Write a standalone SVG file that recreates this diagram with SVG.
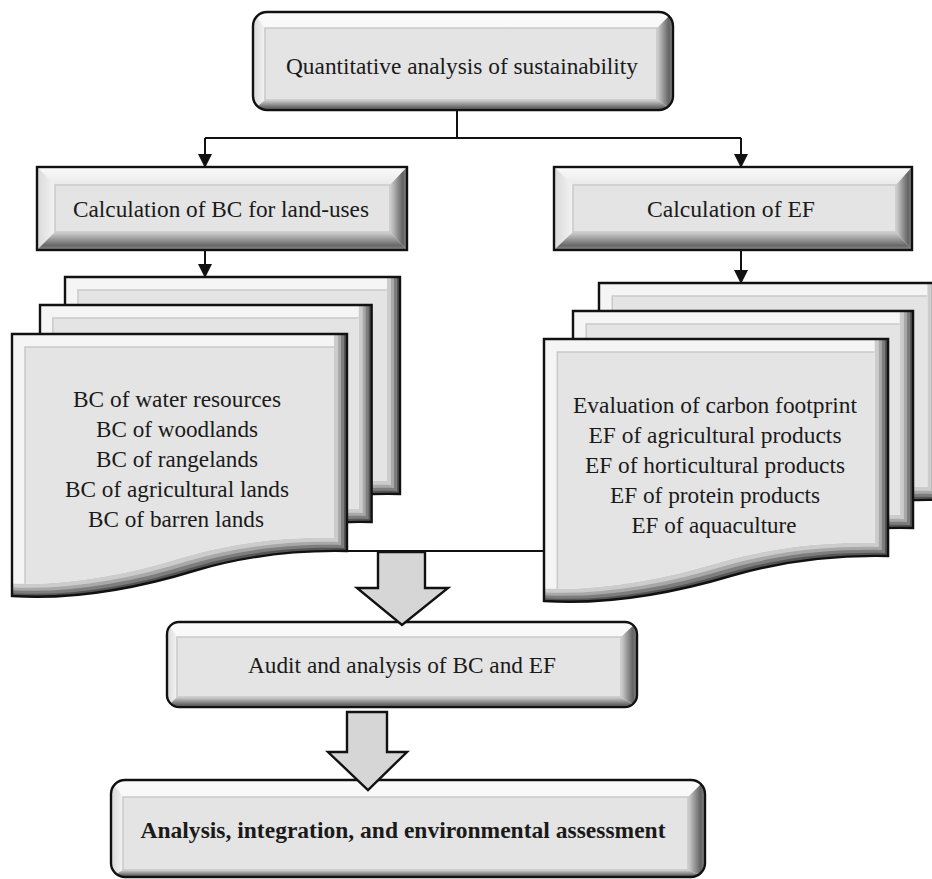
<svg xmlns="http://www.w3.org/2000/svg" xmlns:xlink="http://www.w3.org/1999/xlink" width="932" height="879" viewBox="0 0 932 879">
<style>
  .t { font-family: "Liberation Serif", "DejaVu Serif", serif; font-size: 23px; fill: #1a1a1a; text-anchor: middle; }
  .tb { font-weight: bold; }
  .edge { stroke: #111; stroke-width: 2.4; fill: none; }
  .face { fill: #e4e4e4; stroke: #c9c9c9; stroke-width: 1.5; }
  .conn { stroke: #111; stroke-width: 2; fill: none; }
  .block { fill: #d6d6d6; stroke: #111; stroke-width: 2.4; stroke-linejoin: miter; }
</style>
<defs>
  <linearGradient id="gTop" x1="0" y1="0" x2="0" y2="1">
    <stop offset="0" stop-color="#fbfbfb"/><stop offset="1" stop-color="#e9e9e9"/>
  </linearGradient>
  <linearGradient id="gLeft" x1="0" y1="0" x2="1" y2="0">
    <stop offset="0" stop-color="#d9d9d9"/><stop offset="1" stop-color="#f3f3f3"/>
  </linearGradient>
  <linearGradient id="gRight" x1="0" y1="0" x2="1" y2="0">
    <stop offset="0" stop-color="#d2d2d2"/><stop offset="0.75" stop-color="#626262"/><stop offset="1" stop-color="#8c8c8c"/>
  </linearGradient>
  <linearGradient id="gBot" x1="0" y1="0" x2="0" y2="1">
    <stop offset="0" stop-color="#d2d2d2"/><stop offset="0.75" stop-color="#686868"/><stop offset="1" stop-color="#8c8c8c"/>
  </linearGradient>
  <marker id="ah" viewBox="0 0 14 14" refX="10" refY="7" markerWidth="14" markerHeight="14" markerUnits="userSpaceOnUse" orient="auto">
    <path d="M0,0 L14,7 L0,14 Z" fill="#111"/>
  </marker>
  <path id="docShape" d="M0,0 H335 V217 C290,216 240,220 185,236 C120,256 60,266 0,262 Z"/>
  <clipPath id="cpDoc"><use xlink:href="#docShape" href="#docShape"/></clipPath>
  <clipPath id="cpDocIn"><use xlink:href="#docShape" href="#docShape" transform="translate(-13,-13)"/></clipPath>
  <g id="page">
    <g clip-path="url(#cpDoc)">
      <use href="#docShape" xlink:href="#docShape" fill="#555555"/>
      <use href="#docShape" xlink:href="#docShape" fill="#7d7d7d" transform="translate(-3,-3)"/>
      <use href="#docShape" xlink:href="#docShape" fill="#a8a8a8" transform="translate(-6,-6)"/>
      <use href="#docShape" xlink:href="#docShape" fill="#cccccc" transform="translate(-9,-9)"/>
      <use href="#docShape" xlink:href="#docShape" fill="#f5f5f5" transform="translate(-13,-13)"/>
      <g clip-path="url(#cpDocIn)">
        <use href="#docShape" xlink:href="#docShape" class="face" transform="translate(13,13)"/>
      </g>
    </g>
    <use href="#docShape" xlink:href="#docShape" class="edge"/>
  </g>
  <clipPath id="cpTop"><rect x="253" y="12" width="420" height="98" rx="14"/></clipPath>
  <clipPath id="cpAudit"><rect x="167" y="622" width="470" height="85" rx="12"/></clipPath>
  <clipPath id="cpFinal"><rect x="111" y="780" width="594" height="97" rx="14"/></clipPath>
</defs>

<rect width="932" height="879" fill="#ffffff"/>

<g id="node-quantitative">
  <g clip-path="url(#cpTop)">
    <rect x="253" y="12" width="420" height="98" fill="url(#gTop)"/>
    <polygon points="253,12 265,28 265,100 253,110" fill="url(#gLeft)"/>
    <polygon points="673,12 673,110 657,100 657,28" fill="url(#gRight)"/>
    <polygon points="253,110 673,110 657,100 265,100" fill="url(#gBot)"/>
    <rect x="265" y="28" width="392" height="72" class="face"/>
  </g>
  <rect x="253" y="12" width="420" height="98" rx="14" class="edge"/>
  <text class="t" x="462" y="74" textLength="352" lengthAdjust="spacingAndGlyphs">Quantitative analysis of sustainability</text>
</g>

<g id="node-bc-calc">
  <rect x="37" y="167" width="370" height="83" fill="#e6e6e6"/>
  <polygon points="37,167 407,167 390,185 55,185" fill="url(#gTop)"/>
  <polygon points="37,167 55,185 55,232 37,250" fill="url(#gLeft)"/>
  <polygon points="407,167 407,250 390,232 390,185" fill="url(#gRight)"/>
  <polygon points="37,250 407,250 390,232 55,232" fill="url(#gBot)"/>
  <rect x="55" y="185" width="335" height="47" class="face"/>
  <rect x="37" y="167" width="370" height="83" class="edge"/>
  <text class="t" x="221" y="217" textLength="296" lengthAdjust="spacingAndGlyphs">Calculation of BC for land-uses</text>
</g>

<g id="node-ef-calc">
  <rect x="554" y="167" width="358" height="83" fill="#e6e6e6"/>
  <polygon points="554,167 912,167 896,185 573,185" fill="url(#gTop)"/>
  <polygon points="554,167 573,185 573,232 554,250" fill="url(#gLeft)"/>
  <polygon points="912,167 912,250 896,232 896,185" fill="url(#gRight)"/>
  <polygon points="554,250 912,250 896,232 573,232" fill="url(#gBot)"/>
  <rect x="573" y="185" width="323" height="47" class="face"/>
  <rect x="554" y="167" width="358" height="83" class="edge"/>
  <text class="t" x="731" y="217" textLength="168" lengthAdjust="spacingAndGlyphs">Calculation of EF</text>
</g>

<g id="node-bc-stack">
  <use href="#page" xlink:href="#page" transform="translate(65,277)"/>
  <use href="#page" xlink:href="#page" transform="translate(40,305) scale(0.99,1)"/>
  <use href="#page" xlink:href="#page" transform="translate(12,334)"/>
  <text class="t" x="177" y="407" textLength="208" lengthAdjust="spacingAndGlyphs">BC of water resources</text>
  <text class="t" x="177" y="437" textLength="162" lengthAdjust="spacingAndGlyphs">BC of woodlands</text>
  <text class="t" x="177" y="467" textLength="162" lengthAdjust="spacingAndGlyphs">BC of rangelands</text>
  <text class="t" x="177" y="497" textLength="224" lengthAdjust="spacingAndGlyphs">BC of agricultural lands</text>
  <text class="t" x="176" y="527" textLength="176" lengthAdjust="spacingAndGlyphs">BC of barren lands</text>
</g>

<g id="node-ef-stack">
  <use href="#page" xlink:href="#page" transform="translate(599,283) scale(1.02,1)"/>
  <use href="#page" xlink:href="#page" transform="translate(573,311) scale(1.015,1)"/>
  <use href="#page" xlink:href="#page" transform="translate(544,339) scale(1.027,1)"/>
  <text class="t" x="715" y="413" textLength="284" lengthAdjust="spacingAndGlyphs">Evaluation of carbon footprint</text>
  <text class="t" x="715" y="443" textLength="253" lengthAdjust="spacingAndGlyphs">EF of agricultural products</text>
  <text class="t" x="715" y="473" textLength="260" lengthAdjust="spacingAndGlyphs">EF of horticultural products</text>
  <text class="t" x="715" y="503" textLength="210" lengthAdjust="spacingAndGlyphs">EF of protein products</text>
  <text class="t" x="714" y="533" textLength="165" lengthAdjust="spacingAndGlyphs">EF of aquaculture</text>
</g>

<g id="node-audit">
  <g clip-path="url(#cpAudit)">
    <rect x="167" y="622" width="470" height="85" fill="url(#gTop)"/>
    <polygon points="167,622 177,637 177,697 167,707" fill="url(#gLeft)"/>
    <polygon points="637,622 637,707 621,697 621,637" fill="url(#gRight)"/>
    <polygon points="167,707 637,707 621,697 177,697" fill="url(#gBot)"/>
    <rect x="177" y="637" width="444" height="60" class="face"/>
  </g>
  <rect x="167" y="622" width="470" height="85" rx="12" class="edge"/>
  <text class="t" x="402" y="673" textLength="308" lengthAdjust="spacingAndGlyphs">Audit and analysis of BC and EF</text>
</g>

<g id="node-assessment">
  <g clip-path="url(#cpFinal)">
    <rect x="111" y="780" width="594" height="97" fill="url(#gTop)"/>
    <polygon points="111,780 123,797 123,870 111,877" fill="url(#gLeft)"/>
    <polygon points="705,780 705,877 688,870 688,797" fill="url(#gRight)"/>
    <polygon points="111,877 705,877 688,870 123,870" fill="url(#gBot)"/>
    <rect x="123" y="797" width="565" height="73" class="face"/>
  </g>
  <rect x="111" y="780" width="594" height="97" rx="14" class="edge"/>
  <text class="t tb" x="403" y="838" textLength="525" lengthAdjust="spacingAndGlyphs">Analysis, integration, and environmental assessment</text>
</g>

<g id="connectors">
  <polyline class="conn" points="457,110 457,138"/>
  <polyline class="conn" points="205,138 741,138"/>
  <line class="conn" x1="205" y1="138" x2="205" y2="164" marker-end="url(#ah)"/>
  <line class="conn" x1="741" y1="138" x2="741" y2="164" marker-end="url(#ah)"/>
  <line class="conn" x1="205" y1="250" x2="205" y2="274" marker-end="url(#ah)"/>
  <line class="conn" x1="741" y1="250" x2="741" y2="280" marker-end="url(#ah)"/>
  <line class="conn" x1="347" y1="551" x2="544" y2="551"/>
  <polygon class="block" points="378,552 425,552 425,588 448,588 402,625 357,588 378,588"/>
  <polygon class="block" points="347,712 387,712 387,752 407,752 368,790 328,752 347,752"/>
</g>
</svg>
